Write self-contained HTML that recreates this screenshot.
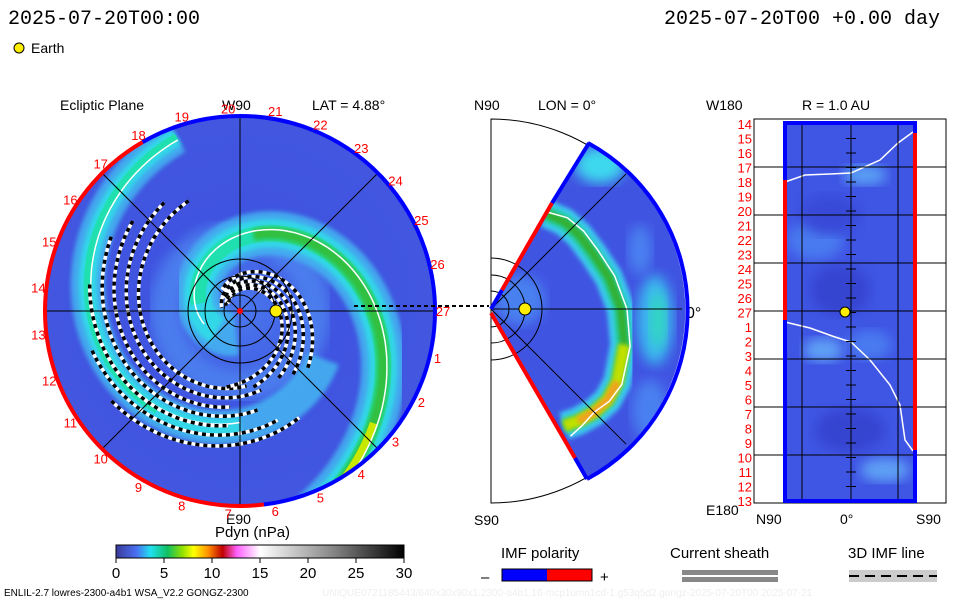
<!DOCTYPE html>
<html><head><meta charset="utf-8"><style>
body{margin:0;background:#fff;}
svg{display:block;font-family:"Liberation Sans",sans-serif;}
</style></head><body>
<svg id="s" width="960" height="600" viewBox="0 0 960 600">
<defs>
<radialGradient id="dg" cx="50%" cy="50%" r="50%">
<stop offset="0" stop-color="#4a78ee"/><stop offset="0.5" stop-color="#3f54e0"/><stop offset="1" stop-color="#4256e0"/>
</radialGradient>
<linearGradient id="cb" x1="0" x2="1">
<stop offset="0" stop-color="#3a3a9a"/><stop offset="0.07" stop-color="#4a6ef0"/><stop offset="0.12" stop-color="#20e0f0"/><stop offset="0.18" stop-color="#10c060"/><stop offset="0.23" stop-color="#90e000"/><stop offset="0.27" stop-color="#ffff00"/><stop offset="0.32" stop-color="#ff9000"/><stop offset="0.37" stop-color="#c00000"/><stop offset="0.42" stop-color="#ff60ff"/><stop offset="0.5" stop-color="#ffffff"/><stop offset="0.75" stop-color="#888"/><stop offset="1" stop-color="#000"/>
</linearGradient>
<clipPath id="dc"><circle cx="240" cy="311" r="195"/></clipPath>
<clipPath id="wc"><path d="M491,309 L588,144 A191,191 0 0 1 586,478 Z"/></clipPath>
<clipPath id="rc"><rect x="785" y="123" width="130" height="378"/></clipPath>
<filter id="bl"><feGaussianBlur stdDeviation="6"/></filter>
<filter id="bl2"><feGaussianBlur stdDeviation="2"/></filter>
</defs>

<text x="8" y="24" font-size="20" font-family="Liberation Mono,monospace">2025-07-20T00:00</text>
<text x="940" y="24" font-size="20" font-family="Liberation Mono,monospace" text-anchor="end">2025-07-20T00 +0.00 day</text>
<circle cx="19" cy="48" r="5" fill="#ffee00" stroke="#000"/>
<text x="31" y="53" font-size="14">Earth</text>

<g id="ecl">
<text x="60" y="110" font-size="14">Ecliptic Plane</text>
<text x="222" y="110" font-size="14">W90</text>
<text x="312" y="110" font-size="14">LAT = 4.88°</text>
<circle cx="240" cy="311" r="195" fill="url(#dg)"/>
<g id="eclmarks" clip-path="url(#dc)"></g>
<text x="226" y="524" font-size="14">E90</text>
</g>

<g id="mpan">
<text x="474" y="110" font-size="14">N90</text>
<text x="538" y="110" font-size="14">LON = 0°</text>
<path d="M491,119 A191,191 0 0 1 491,503 Z" fill="none" stroke="#000" stroke-width="1"/>
<path d="M491,309 L588,144 A191,191 0 0 1 586,478 Z" fill="#4054e2"/>
<g clip-path="url(#wc)" id="merid"></g>
<text x="686" y="318" font-size="16">0°</text>
<text x="474" y="525" font-size="14">S90</text>
</g>

<g id="rp">
<text x="706" y="110" font-size="14">W180</text>
<text x="802" y="110" font-size="14">R = 1.0 AU</text>
<rect x="754" y="119" width="192" height="384" fill="#fff" stroke="#000"/>
<rect x="785" y="123" width="130" height="378" fill="#3f55e4"/>
<g clip-path="url(#rc)" id="rmap"></g>
<text x="706" y="515" font-size="14">E180</text>
<text x="756" y="524" font-size="14">N90</text>
<text x="840" y="524" font-size="14">0°</text>
<text x="916" y="524" font-size="14">S90</text>
</g>

<g>
<text x="215" y="537" font-size="15">Pdyn (nPa)</text>
<rect x="116" y="545" width="288" height="13" fill="url(#cb)" stroke="#000"/>
<g id="cbt"></g>
</g>

<g>
<text x="501" y="558" font-size="15">IMF polarity</text>
<text x="481" y="582" font-size="15">–</text>
<rect x="502" y="569" width="45" height="12" fill="#0000ff"/>
<rect x="547" y="569" width="45" height="12" fill="#ff0000"/>
<rect x="502" y="569" width="90" height="12" fill="none" stroke="#000"/>
<text x="600" y="582" font-size="15">+</text>
<text x="670" y="558" font-size="15">Current sheath</text>
<rect x="682" y="570" width="96" height="5" fill="#888"/>
<rect x="682" y="577" width="96" height="5" fill="#888"/>
<text x="848" y="558" font-size="15">3D IMF line</text>
<rect x="849" y="570" width="88" height="12" fill="#ccc"/>
<line x1="849" y1="576" x2="937" y2="576" stroke="#000" stroke-width="2" stroke-dasharray="10,6"/>
</g>
<text x="4" y="596" font-size="10">ENLIL-2.7 lowres-2300-a4b1 WSA_V2.2 GONGZ-2300</text>
<text x="322" y="596" font-size="10" fill="#eee">UNIQUE0721185443/640x30x90x1.2300-a4b1.16-mcp1umn1cd-1.g53q5d2.gongz-2025-07-20T00   2025-07-21</text>

<script>
const NS="http://www.w3.org/2000/svg";
const svg=document.getElementById('s');
function mk(tag,attrs,parent){const e=document.createElementNS(NS,tag);for(const k in attrs)e.setAttribute(k,attrs[k]);parent.appendChild(e);return e;}

// data arrays
const cbTicks=[0,5,10,15,20,25,30];
const carrLabels=[1,2,3,4,5,6,7,8,9,10,11,12,13,14,15,16,17,18,19,20,21,22,23,24,25,26,27];
const rowLabels=[14,15,16,17,18,19,20,21,22,23,24,25,26,27,1,2,3,4,5,6,7,8,9,10,11,12,13];
// stream arms: phase (angle where r=133), winding rate, start/end angle
const armPhase=[0,220];
const armK=[0.0068,0.003];
const armStart=[-70,110];
const armEnd=[260,330];
// IMF lines
const imfPhase=[85,123,157,187,216,242,270,-180,-160,-140,-120,-100];
const imfK=[0.003,0.003,0.003,0.003,0.003,0.003,0.003,0.0068,0.0068,0.0068,0.0068,0.0068];
const imfStart=[115,125,140,150,170,195,215,-100,-80,-60,-50,-40];
const imfEnd=[275,285,265,280,265,290,300,150,160,140,170,130];
// meridional band: angle (deg), radius (px)
const bandAng=[60,50,40,29,15,0,-15,-30,-38,-45,-52,-58];
const bandRad=[110,114,115,116,122,130,138,146,148,146,142,138];
const sheetRad=[112,119,121,122,128,136,144,151,150,146,148,150];

const cbg=document.getElementById('cbt');
function cbx(v){return 116+v/30*288;}
cbTicks.forEach(v=>{
 const l=mk('line',{x1:cbx(v),x2:cbx(v),y1:558,y2:563,stroke:'#000'},cbg);
 
 const t=mk('text',{x:cbx(v),y:578,'font-size':15,'text-anchor':'middle'},cbg);t.textContent=v;
 
});

const cx=240,cy=311,R=195;
function P(r,deg){const a=deg*Math.PI/180;return [cx+r*Math.cos(a),cy-r*Math.sin(a)];}
function spiralPath(ph,k,t0,t1,dr){dr=dr||0;const pts=[];for(let th=t0;th<=t1;th+=2){const r=133*Math.exp(-k*(th-ph))+dr;if(r<8)break;pts.push(P(r,th));}
 return 'M'+pts.map(p=>p[0].toFixed(1)+','+p[1].toFixed(1)).join('L');}
const em=document.getElementById('eclmarks');
const hz=mk('circle',{cx:cx,cy:cy,r:75,fill:'none',stroke:'#4f8af2','stroke-width':30,opacity:0.7,filter:'url(#bl)'},em);

armPhase.forEach((ph,i)=>{
 const k=armK[i],t0=armStart[i],t1=armEnd[i];
 const a=mk('path',{d:spiralPath(ph,k,t0,t1),fill:'none',stroke:'#44b0f0','stroke-width':i==0?44:34,opacity:0.9,filter:'url(#bl2)'},em);
 const b=mk('path',{d:spiralPath(ph,k,t0,i==0?t1-40:t1-60),fill:'none',stroke:'#30d8e8','stroke-width':i==0?28:18,filter:'url(#bl2)'},em);
 const b2=mk('path',{d:spiralPath(ph,k,t0,i==0?t1-90:t1-100),fill:'none',stroke:'#20e0b0','stroke-width':i==0?16:8},em);
 if(i==0){const c=mk('path',{d:spiralPath(ph,k,t0,ph+80),fill:'none',stroke:'#30c040','stroke-width':12,filter:'url(#bl2)'},em);
 const d=mk('path',{d:spiralPath(ph,k,t0,ph-40),fill:'none',stroke:'#c8e800','stroke-width':8},em);}
 const s=mk('path',{d:spiralPath(ph,k,t0,t1-60,i==0?4:-3),fill:'none',stroke:'#fff','stroke-width':1.5},em);
});
imfPhase.forEach((ph,i)=>{
 const d=spiralPath(ph,imfK[i],imfStart[i],imfEnd[i]);
 const b=mk('path',{d:d,fill:'none',stroke:'#fff','stroke-width':3.5},em);
 const k=mk('path',{d:d,fill:'none',stroke:'#000','stroke-width':3.5,'stroke-dasharray':'4,4'},em);
});
const eg=document.getElementById('ecl');
[16,35,52].forEach(r=>{const c=mk('circle',{cx:cx,cy:cy,r:r,fill:'none',stroke:'#000','stroke-width':1},eg);});
[0,45,90,135].forEach(a=>{const p1=P(R,a),p2=P(R,a+180);const l=mk('line',{x1:p1[0],y1:p1[1],x2:p2[0],y2:p2[1],stroke:'#000','stroke-width':1},eg);});
function arc(a0,a1,col){const p0=P(R,a0),p1=P(R,a1);const large=(a1-a0)>180?1:0;
 const e=mk('path',{d:`M${p0[0]},${p0[1]} A${R},${R} 0 ${large} 0 ${p1[0]},${p1[1]}`,fill:'none',stroke:col,'stroke-width':4},eg);}
arc(-83,120,'#0000ff');arc(120,277,'#ff0000');
carrLabels.forEach(n=>{const p=P(R+8,(27-n)*360/27);const t=mk('text',{x:p[0],y:p[1]+5,'font-size':13,fill:'#ff0000','text-anchor':'middle'},eg);t.textContent=n;
 });
const el=mk('line',{x1:354,y1:306,x2:489,y2:306,stroke:'#000','stroke-width':2,'stroke-dasharray':'4,3'},eg);
const sun=mk('circle',{cx:cx,cy:cy,r:3,fill:'#ff0000'},eg);
const e1=mk('circle',{cx:276,cy:311,r:6,fill:'#ffee00',stroke:'#000'},eg);

// meridional
const mg=document.getElementById('merid');
const mc=[491,309];
function MP(r,deg){const a=deg*Math.PI/180;return [mc[0]+r*Math.cos(a),mc[1]-r*Math.sin(a)];}
function mpath(pts){return 'M'+pts.map(p=>p[0].toFixed(1)+','+p[1].toFixed(1)).join('L');}
[[600,165,25,18,'#3cd8ee'],[655,320,18,45,'#3ab8ee'],[658,320,8,28,'#30d8c0'],[640,250,12,25,'#4a80f0'],[520,300,25,25,'#4a80f0'],[650,410,18,30,'#4a80f0']].forEach(([x,y,rx,ry,c])=>{const e=mk('ellipse',{cx:x,cy:y,rx:rx,ry:ry,fill:c,filter:'url(#bl)'},mg);});
const bandPts=bandAng.map((a,i)=>MP(bandRad[i],a));
[['#3cc8ee',28],['#20d0b0',16],['#30b030',9]].forEach(([c,w])=>{const e=mk('path',{d:mpath(bandPts),fill:'none',stroke:c,'stroke-width':w,'stroke-linejoin':'round',filter:'url(#bl2)'},mg);});
const y1=mk('path',{d:mpath(bandPts.slice(6)),fill:'none',stroke:'#c0e000','stroke-width':12,filter:'url(#bl2)'},mg);
const o1=mk('path',{d:mpath(bandPts.slice(7,11)),fill:'none',stroke:'#f0a020','stroke-width':8,filter:'url(#bl2)'},mg);
const sh=mk('path',{d:mpath(bandAng.map((a,i)=>MP(sheetRad[i],a))),fill:'none',stroke:'#fff','stroke-width':1.5},mg);
const mpar=document.getElementById('mpan');
[18,34,51].forEach(r=>{const c=mk('path',{d:`M491,${309-r} A${r},${r} 0 0 1 491,${309+r}`,fill:'none',stroke:'#000'},mpar);});
[45,0,-45].forEach(a=>{const p=MP(191,a);const l=mk('line',{x1:491,y1:309,x2:p[0],y2:p[1],stroke:'#000'},mpar);});
[['#0000ff',491,309,502,290],['#ff0000',502,290,552,203],['#0000ff',552,203,589,143],['#ff0000',491,313,575,458],['#0000ff',575,458,587,479]].forEach(([c,x1,y1,x2,y2])=>{const l=mk('line',{x1:x1,y1:y1,x2:x2,y2:y2,stroke:c,'stroke-width':4},mpar);});
const ma=mk('path',{d:'M588,143 A191,191 0 0 1 587,479',fill:'none',stroke:'#0000ff','stroke-width':4},mpar);
const e2=mk('circle',{cx:525,cy:309,r:6,fill:'#ffee00',stroke:'#000'},mpar);

// right panel
const rp=document.getElementById('rp');const rm=document.getElementById('rmap');
[[815,240,28,20,'#4a7af0'],[870,345,22,15,'#4a7af0'],[823,350,20,12,'#5fa0f5'],[885,470,25,12,'#5fa0f5'],[865,175,22,10,'#5aa0f5'],[840,290,30,25,'#3545d0'],[850,430,35,22,'#3545d0'],[830,215,30,20,'#3848d8']].forEach(([x,y,rx,ry,c])=>{const e=mk('ellipse',{cx:x,cy:y,rx:rx,ry:ry,fill:c,filter:'url(#bl)'},rm);});
const cs3=mk('path',{d:'M785,182 L805,175 L830,174 L851,173 L880,160 L898,143 L913,132',fill:'none',stroke:'#fff','stroke-width':1.5},rp);
const cs4=mk('path',{d:'M785,322 L810,328 L835,337 L851,342 L870,360 L890,385 L900,405 L905,440 L913,451',fill:'none',stroke:'#fff','stroke-width':1.5},rp);
[167,215,263,311,359,407,455].forEach(y=>{const l=mk('line',{x1:754,x2:946,y1:y,y2:y,stroke:'#000'},rp);});
[802,851,898].forEach(x=>{const l=mk('line',{x1:x,x2:x,y1:123,y2:501,stroke:'#000'},rp);});
for(let i=0;i<27;i++){const y=124+i*(377/26);const k=mk('line',{x1:846,x2:856,y1:y,y2:y,stroke:'#000'},rp);}
[[785,123,180,'#0000ff'],[785,180,320,'#ff0000'],[785,320,501,'#0000ff'],[915,123,133,'#0000ff'],[915,133,450,'#ff0000'],[915,450,501,'#0000ff']].forEach(([x,y0,y1,c])=>{const l=mk('line',{x1:x,x2:x,y1:y0,y2:y1,stroke:c,'stroke-width':4},rp);});
const tb=mk('rect',{x:783,y:121,width:134,height:4,fill:'#0000ff'},rp);
const bb=mk('rect',{x:783,y:499,width:134,height:4,fill:'#0000ff'},rp);
rowLabels.forEach((n,i)=>{const y=124+i*(377/26);const t=mk('text',{x:752,y:y+5,'font-size':13,fill:'#ff0000','text-anchor':'end'},rp);t.textContent=n;
 });
const e3=mk('circle',{cx:845,cy:312,r:5,fill:'#ffee00',stroke:'#000'},rp);
</script>
</svg>
</body></html>
